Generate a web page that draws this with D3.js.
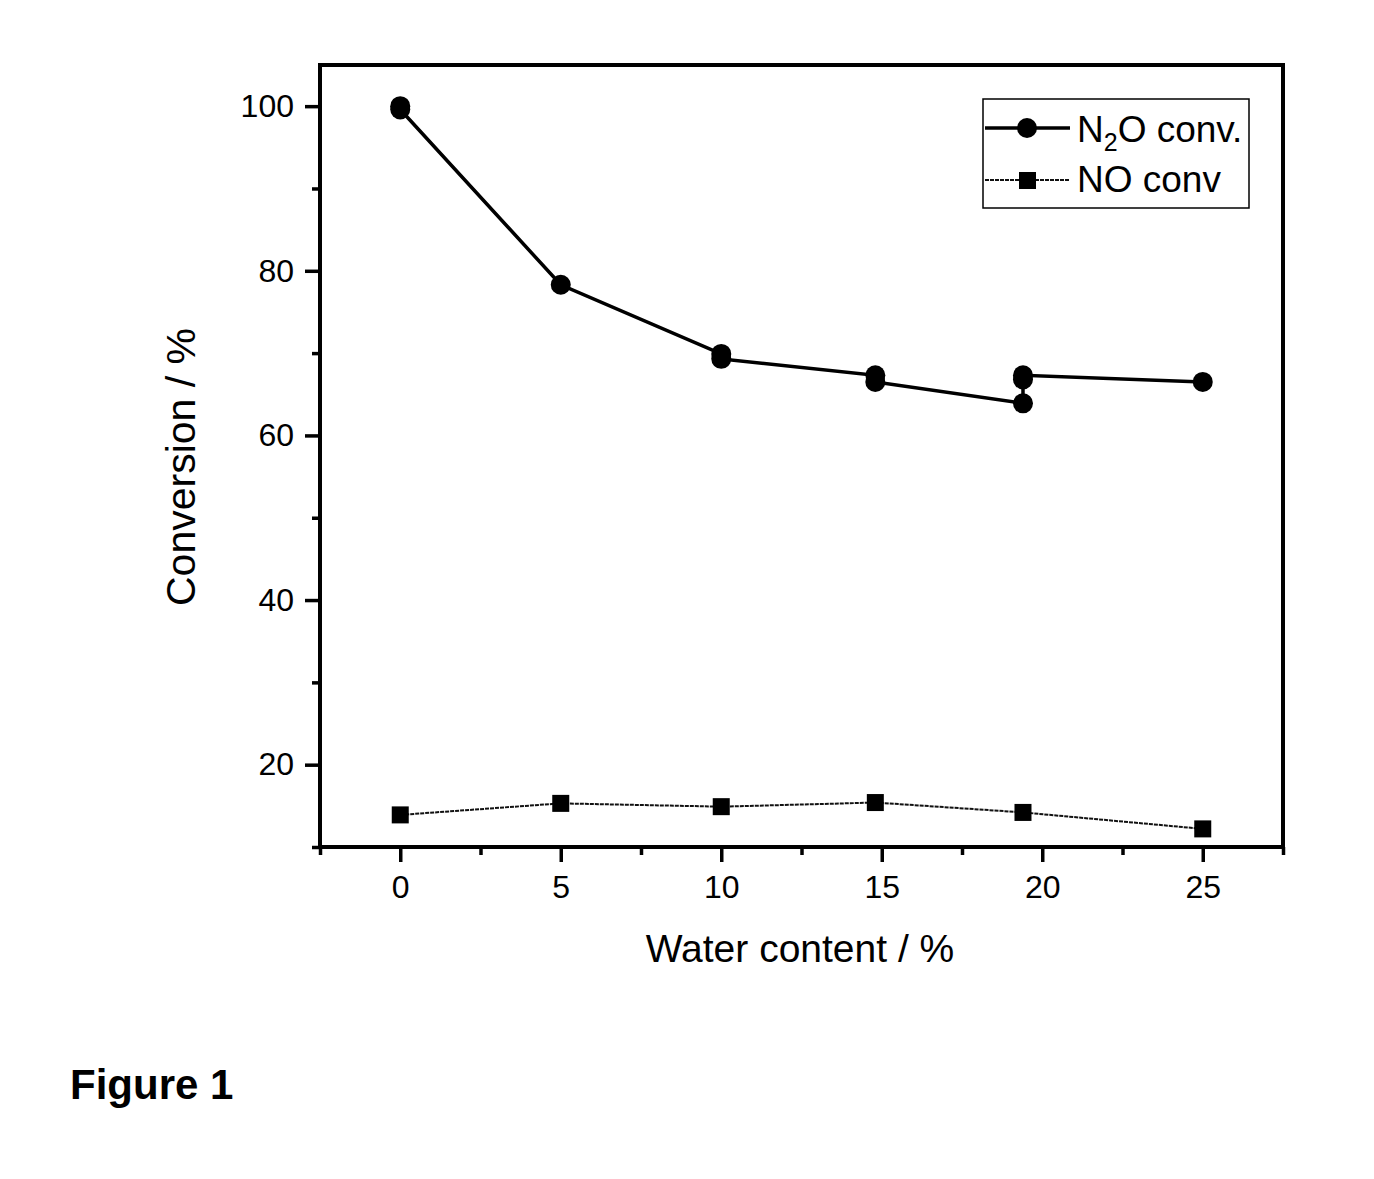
<!DOCTYPE html>
<html>
<head>
<meta charset="utf-8">
<script src="https://cdn.jsdelivr.net/npm/d3@7"></script>
<style>
  body { margin: 0; background: #fff; }
  text { font-family: "Liberation Sans", Arial, sans-serif; fill: #000; }
</style>
</head>
<body>
<script>
// N2O conversion points, in the order the line joins them
var n2oWater = [0, 0, 5, 10, 10, 14.8, 14.8, 19.4, 19.4, 19.4, 25];
var n2oConv = [100.0, 99.6, 78.3, 69.9, 69.3, 67.3, 66.5, 63.9, 66.8, 67.3, 66.5];

// NO conversion points
var noWater = [0, 5, 10, 14.8, 19.4, 25];
var noConv = [13.9, 15.3, 14.9, 15.4, 14.2, 12.2];

var xMajor = [0, 5, 10, 15, 20, 25];
var xMinor = [-2.5, 2.5, 7.5, 12.5, 17.5, 22.5, 27.5];
var yMajor = [20, 40, 60, 80, 100];
var yMinor = [10, 30, 50, 70, 90];

var legendLabels = ["N2O conv.", "NO conv"];

var width = 1374, height = 1179;
var plotLeft = 320, plotRight = 1283, plotTop = 65, plotBottom = 847;

var n2o = n2oWater.map(function(w, i) { return {x: w, y: n2oConv[i]}; });
var no = noWater.map(function(w, i) { return {x: w, y: noConv[i]}; });

var x = d3.scaleLinear().domain([-2.5, 27.5]).range([plotLeft, plotRight]);
var y = d3.scaleLinear().domain([10, 105]).range([plotBottom, plotTop]);

var svg = d3.select("body")
    .append("svg")
    .attr("width", width)
    .attr("height", height);

// ticks
var xAxisMajor = d3.axisBottom(x).tickValues(xMajor).tickSize(15).tickPadding(13)
    .tickFormat(d3.format("d"));
var xAxisMinor = d3.axisBottom(x).tickValues(xMinor).tickSize(8).tickFormat("");
var yAxisMajor = d3.axisLeft(y).tickValues(yMajor).tickSize(15).tickPadding(11)
    .tickFormat(d3.format("d"));
var yAxisMinor = d3.axisLeft(y).tickValues(yMinor).tickSize(8).tickFormat("");

[xAxisMajor, xAxisMinor].forEach(function(a) {
    svg.append("g").attr("transform", "translate(0," + plotBottom + ")").call(a);
});
[yAxisMajor, yAxisMinor].forEach(function(a) {
    svg.append("g").attr("transform", "translate(" + plotLeft + ",0)").call(a);
});

svg.selectAll(".domain").remove();
svg.selectAll(".tick line")
    .attr("stroke", "#000")
    .attr("stroke-width", 3.5);
svg.selectAll(".tick text")
    .style("font-size", "32px")
    .style("font-family", "Liberation Sans, Arial, sans-serif")
    .attr("fill", "#000");

// frame
svg.append("rect")
    .attr("x", plotLeft)
    .attr("y", plotTop)
    .attr("width", plotRight - plotLeft)
    .attr("height", plotBottom - plotTop)
    .attr("fill", "none")
    .attr("stroke", "#000")
    .attr("stroke-width", 4);

var line = d3.line()
    .x(function(d) { return x(d.x); })
    .y(function(d) { return y(d.y); });

// N2O series
svg.append("path")
    .datum(n2o)
    .attr("d", line)
    .attr("fill", "none")
    .attr("stroke", "#000")
    .attr("stroke-width", 3.5);

svg.selectAll(".n2o")
    .data(n2o)
    .enter()
    .append("circle")
    .attr("class", "n2o")
    .attr("cx", function(d) { return x(d.x); })
    .attr("cy", function(d) { return y(d.y); })
    .attr("r", 10)
    .attr("fill", "#000");

// NO series
svg.append("path")
    .datum(no)
    .attr("d", line)
    .attr("fill", "none")
    .attr("stroke", "#111")
    .attr("stroke-width", 2)
    .attr("stroke-dasharray", "4,1");

svg.selectAll(".no")
    .data(no)
    .enter()
    .append("rect")
    .attr("class", "no")
    .attr("x", function(d) { return x(d.x) - 8.5; })
    .attr("y", function(d) { return y(d.y) - 8.5; })
    .attr("width", 17)
    .attr("height", 17)
    .attr("fill", "#000");

// legend
var legend = svg.append("g");
legend.append("rect")
    .attr("x", 983)
    .attr("y", 99)
    .attr("width", 266)
    .attr("height", 109)
    .attr("fill", "#fff")
    .attr("stroke", "#000")
    .attr("stroke-width", 1.5);

legend.append("line")
    .attr("x1", 985).attr("x2", 1070)
    .attr("y1", 128).attr("y2", 128)
    .attr("stroke", "#000").attr("stroke-width", 3.5);
legend.append("circle")
    .attr("cx", 1027).attr("cy", 128).attr("r", 10)
    .attr("fill", "#000");

legend.append("line")
    .attr("x1", 985).attr("x2", 1070)
    .attr("y1", 180).attr("y2", 180)
    .attr("stroke", "#111").attr("stroke-width", 2)
    .attr("stroke-dasharray", "4,1");
legend.append("rect")
    .attr("x", 1019).attr("y", 172).attr("width", 17).attr("height", 17)
    .attr("fill", "#000");

var t1 = legend.append("text")
    .attr("x", 1077)
    .attr("y", 142)
    .style("font-size", "37px");
t1.append("tspan").text("N");
t1.append("tspan").attr("dy", 9).style("font-size", "25px").text("2");
t1.append("tspan").attr("dy", -9).text("O conv.");

legend.append("text")
    .attr("x", 1077)
    .attr("y", 192)
    .style("font-size", "37px")
    .text(legendLabels[1]);

// axis titles
svg.append("text")
    .attr("x", 800)
    .attr("y", 962)
    .attr("text-anchor", "middle")
    .style("font-size", "39px")
    .text("Water content / %");

svg.append("text")
    .attr("transform", "translate(195,467) rotate(-90)")
    .attr("text-anchor", "middle")
    .style("font-size", "41px")
    .text("Conversion / %");

svg.append("text")
    .attr("x", 70)
    .attr("y", 1099)
    .style("font-size", "42px")
    .style("font-weight", "bold")
    .text("Figure 1");
</script>
</body>
</html>
